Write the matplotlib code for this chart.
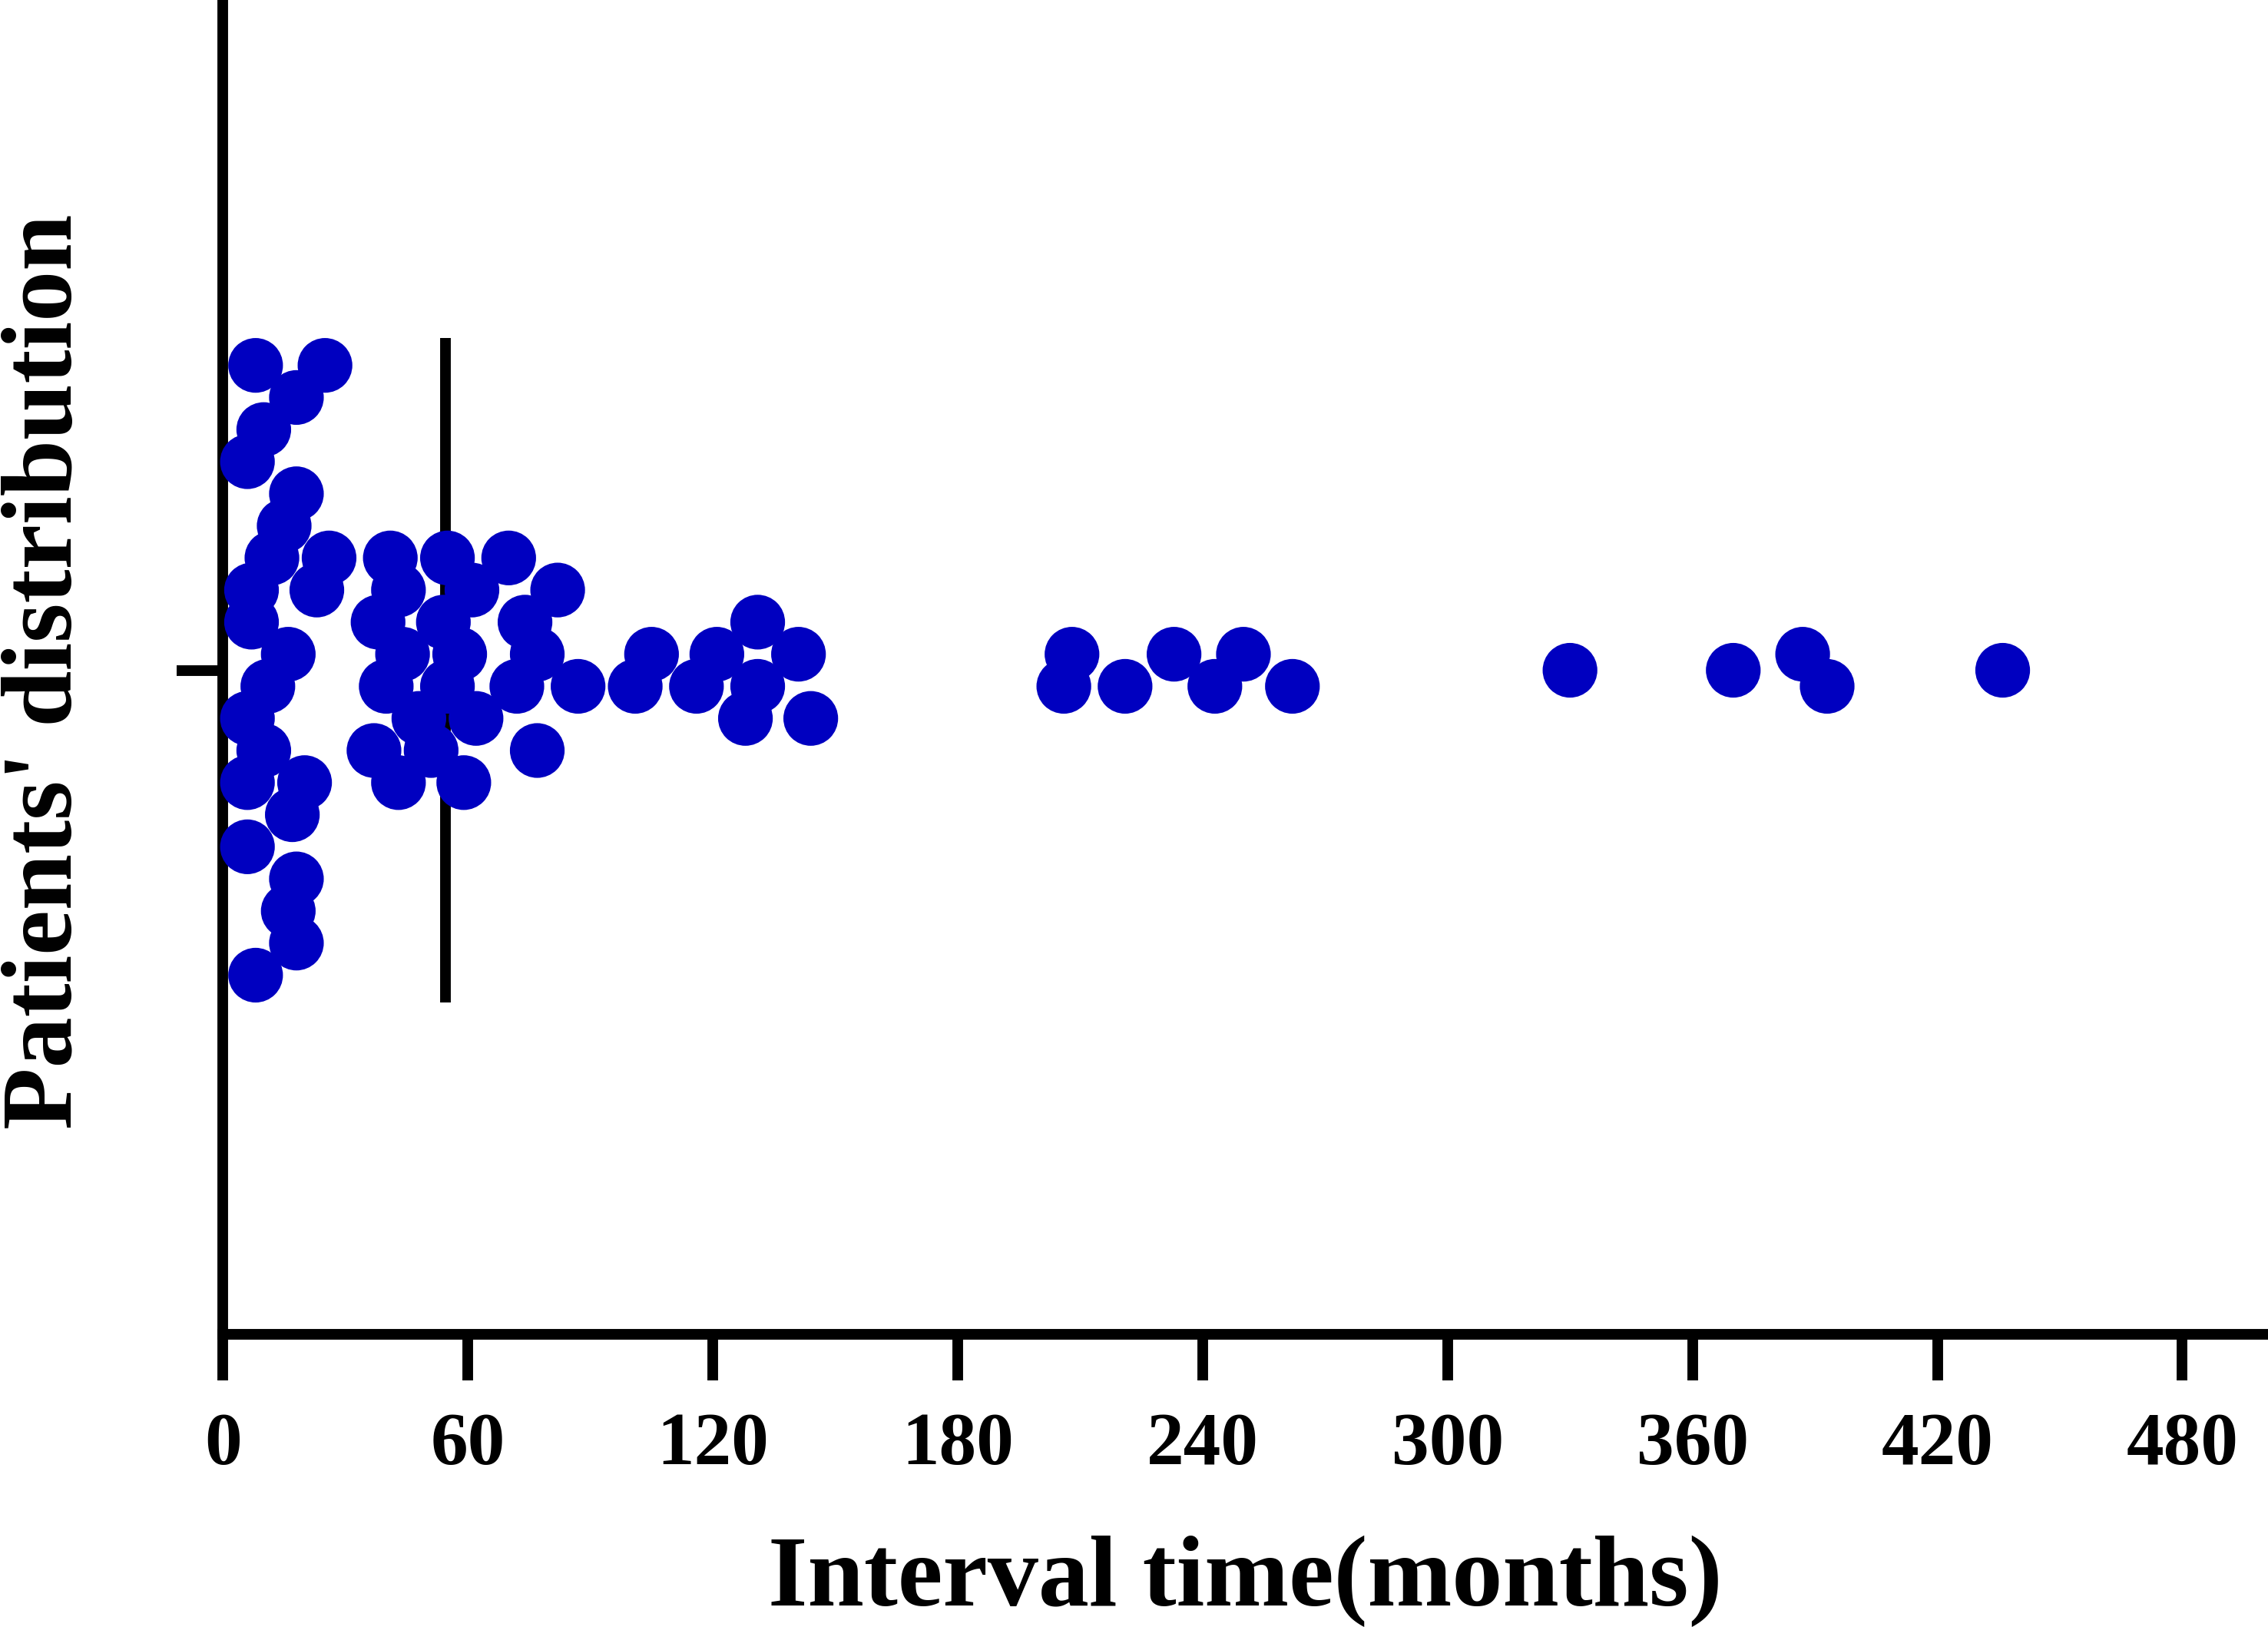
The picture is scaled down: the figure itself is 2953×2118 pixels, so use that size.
import numpy as np
import matplotlib
matplotlib.use('Agg')
import matplotlib.pyplot as plt

# Interval time (months) of each patient
interval_months = [
    # short-interval cluster
    8, 25, 18, 10, 6, 18, 15, 12, 26, 7, 23, 7, 16, 11, 6, 10, 6, 20, 17, 6, 18, 16, 18, 8,
    # middle cluster
    41, 55, 70, 43, 61, 82, 38, 54, 74, 131, 44, 58, 77, 105, 121, 141,
    40, 55, 72, 87, 101, 116, 131, 48, 62, 128, 144, 37, 51, 77, 43, 59,
    # long-interval points
    208, 206, 221, 233, 250, 243, 262, 330, 370, 387, 393, 436,
]
# Vertical swarm row of each point (half-step units around the centre line)
swarm_row = [
    19, 19, 17, 15, 13, 11, 9, 7, 7, 5, 5, 3, 1, -1, -3, -5, -7, -7, -9, -11, -13, -15, -17, -19,
    7, 7, 7, 5, 5, 5, 3, 3, 3, 3, 1, 1, 1, 1, 1, 1,
    -1, -1, -1, -1, -1, -1, -1, -3, -3, -3, -3, -5, -5, -5, -7, -7,
    1, -1, -1, 1, 1, -1, -1, 0, 0, 1, -1, 0,
]
x_ticks = [0, 60, 120, 180, 240, 300, 360, 420, 480]
x_label = "Interval time(months)"
y_label = "Patients' distribution"

plt.rcParams['font.family'] = ['Liberation Serif', 'DejaVu Serif']
plt.rcParams['font.weight'] = 'bold'

fig = plt.figure(figsize=(29.53, 21.18), dpi=100)
ax = fig.add_axes([0.0983, 0.1799, 0.9017, 0.8201])

median_val = np.median(interval_months)
ax.vlines(median_val, -20.7, 20.7, color='black', linewidth=10, zorder=2)
ax.scatter(interval_months, swarm_row, s=2630, color='#0000C0',
           edgecolors='none', zorder=3, clip_on=False)

ax.set_xlim(0, 501)
ax.set_ylim(-41.38, 41.77)

for side in ['top', 'right']:
    ax.spines[side].set_visible(False)
for side in ['left', 'bottom']:
    ax.spines[side].set_linewidth(10)
    ax.spines[side].set_color('black')

ax.set_xticks(x_ticks)
ax.set_xticklabels([str(t) for t in x_ticks])
ax.set_yticks([0])
ax.set_yticklabels([''])
ax.tick_params(axis='both', direction='out', length=43, width=10, color='black')
ax.tick_params(axis='x', labelsize=70, pad=30)
for lbl in ax.get_xticklabels():
    lbl.set_fontweight('bold')

ax.set_xlabel(x_label, fontsize=95, fontweight='bold')
ax.xaxis.label.set_va('baseline')
ax.xaxis.set_label_coords(0.5, -0.2032)

ax.set_ylabel(y_label, fontsize=95, fontweight='bold')
ax.yaxis.label.set_va('baseline')
ax.yaxis.set_label_coords(-0.0741, 0.4968)

fig.savefig('out.png', dpi=100, facecolor='white')
